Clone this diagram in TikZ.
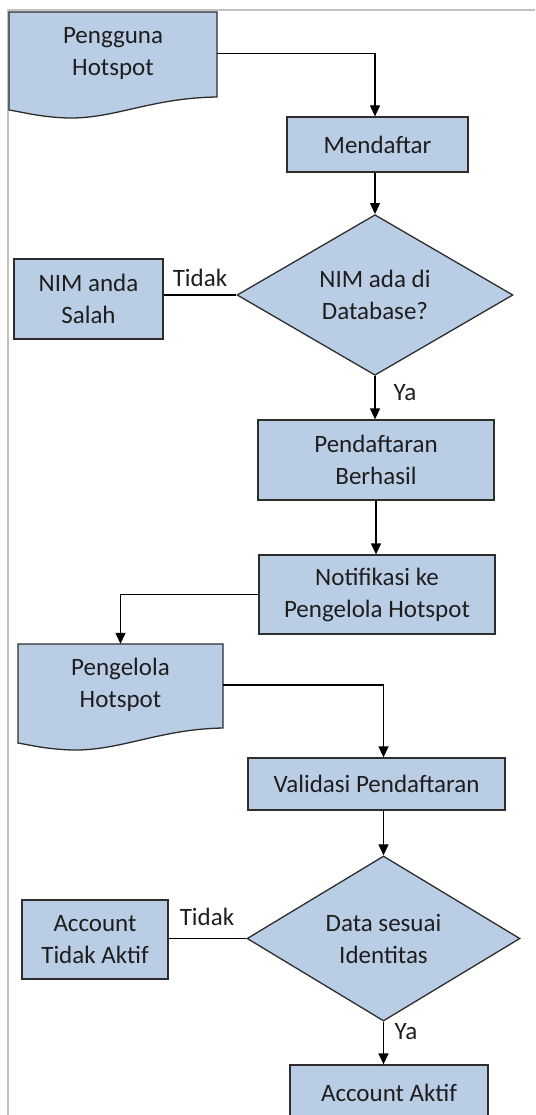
\documentclass[tikz,border=0pt]{standalone}
\usepackage{fontspec}
\setmainfont{Carlito}
\usetikzlibrary{shapes.geometric,arrows.meta,calc}
\definecolor{boxfill}{RGB}{185,205,229}
\definecolor{boxline}{RGB}{45,45,45}
\definecolor{frameline}{RGB}{195,195,195}
\definecolor{txtcol}{RGB}{30,30,30}
\begin{document}
\begin{tikzpicture}[x=1pt,y=-1pt,
  basefont/.style={font=\fontsize{25}{32}\selectfont, text=txtcol},
  box/.style={basefont, draw=boxline, fill=boxfill, line width=1.3pt, inner sep=0pt, align=center},
  dec/.style={box, diamond},
  doctext/.style={basefont, inner sep=0pt, align=center},
  docshape/.style={draw=boxline, fill=boxfill, line width=1.3pt},
  lbl/.style={basefont, inner sep=0pt},
  con/.style={line width=1.3pt, draw=black},
  arr/.style={con, -{Triangle[width=10pt,length=11pt]}}
]
\useasboundingbox (0,0) rectangle (535,1115);
% page frame
\draw[frameline, line width=1.5pt] (8,1115) -- (8,10) -- (535,10);

% document shapes
\draw[docshape] (9,12) -- (217,12) -- (217,97) .. controls (150,98) and (115,119) .. (67,118) .. controls (40,117) and (22,112) .. (9,110) -- cycle;
\node[doctext, minimum width=208, minimum height=83] (user) at (113,53.5) {Pengguna\\Hotspot};

\draw[docshape] (18,644) -- (223,644) -- (223,728) .. controls (160,729) and (120,751) .. (72,750) .. controls (45,749) and (30,745) .. (18,743) -- cycle;
\node[doctext, minimum width=205, minimum height=82] (peng) at (120.5,685) {Pengelola\\Hotspot};

% process boxes
\node[box, minimum width=181, minimum height=55] (daftar) at (377.5,144.5) {Mendaftar};
\node[dec, minimum width=276, minimum height=144] (d1) at (375,295) {NIM ada di\\Database?};
\node[box, minimum width=149, minimum height=80] (salah) at (88.5,299) {NIM anda\\Salah};
\node[box, minimum width=236, minimum height=80] (berhasil) at (376,460) {Pendaftaran\\Berhasil};
\node[box, minimum width=236, minimum height=79] (notif) at (377,594.5) {Notifikasi ke\\Pengelola Hotspot};
\node[box, minimum width=257, minimum height=52] (valid) at (376.5,784) {Validasi Pendaftaran};
\node[dec, minimum width=273, minimum height=143] (d2) at (383.5,938.5) {Data sesuai\\Identitas};
\node[box, minimum width=146, minimum height=79] (tidakaktif) at (95,939.5) {Account\\Tidak Aktif};
\node[box, minimum width=198, minimum height=56] (aktif) at (389,1093) {Account Aktif};

% labels
\node[lbl] (t1) at (200,278) {Tidak};
\node[lbl] (y1) at (405,393) {Ya};
\node[lbl] (t2) at (207,917) {Tidak};
\node[lbl] (y2) at (406,1032) {Ya};

% connectors
\draw[arr] (user.east) -| (d1.north |- daftar.north);
\draw[arr] (d1.north |- daftar.south) -- (d1.north);
\draw[con] (d1.west) -- (d1.west -| salah.east);
\draw[arr] (d1.south) -- (d1.south |- berhasil.north);
\draw[arr] (berhasil.south) -- (berhasil.south |- notif.north);
\draw[arr] (notif.west) -| (peng.north);
\draw[arr] (peng.east) -| (d2.north |- valid.north);
\draw[arr] (d2.north |- valid.south) -- (d2.north);
\draw[con] (d2.west) -- (d2.west -| tidakaktif.east);
\draw[arr] (d2.south) -- (d2.south |- aktif.north);
\end{tikzpicture}
\end{document}
